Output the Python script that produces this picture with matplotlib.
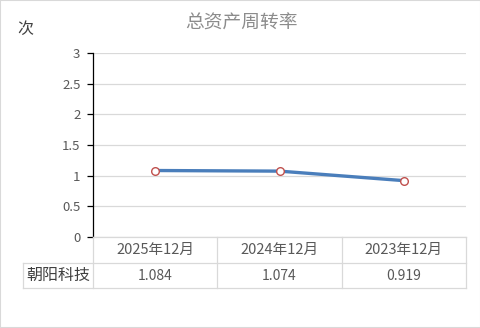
import matplotlib
matplotlib.use("Agg")
import matplotlib.pyplot as plt
from matplotlib.lines import Line2D
from matplotlib.patches import Rectangle

plt.rcParams['font.family'] = ['Noto Sans CJK SC', 'DejaVu Sans']

categories = ["2025年12月", "2024年12月", "2023年12月"]
series_name = "朝阳科技"
values = [1.084, 1.074, 0.919]
value_labels = ["1.084", "1.074", "0.919"]
yticks = [0, 0.5, 1, 1.5, 2, 2.5, 3]
ytick_labels = ["0", "0.5", "1", "1.5", "2", "2.5", "3"]
title = "总资产周转率"
unit = "次"

W, H = 481, 328
fig = plt.figure(figsize=(W / 100, H / 100), dpi=100)

def fx(px):
    return px / W

def fy(py):
    return 1 - py / H

x0, x1, ytop, ybot = 93, 466, 53, 237
ax = fig.add_axes([fx(x0), fy(ybot), fx(x1) - fx(x0), fy(ytop) - fy(ybot)])
xs = list(range(len(categories)))
ax.plot(xs, values, color='#4a7ebb', lw=2.4, solid_capstyle='round', zorder=3)
ax.plot(xs, values, ls='none', marker='o', ms=5.5, mfc='white', mec='#c0504d', mew=1.0, zorder=4)
ax.set_xlim(-0.5, len(categories) - 0.5)
ax.set_ylim(0, 3)
ax.set_yticks(yticks)
ax.set_yticklabels(ytick_labels, fontsize=9.5, color='#595959')
ax.set_xticks([])
ax.grid(axis='y', color='#d9d9d9', lw=0.9)
ax.set_axisbelow(True)
for s in ['top', 'right', 'bottom']:
    ax.spines[s].set_visible(False)
ax.spines['left'].set_color('black')
ax.spines['left'].set_linewidth(0.9)
ax.tick_params(axis='y', length=4, width=0.9, color='black', pad=5)

# table
gc = '#d9d9d9'
r0, r1, r2 = 237, 263, 288
lx = 23
colx = [x0 + (x1 - x0) * i / len(categories) for i in range(len(categories) + 1)]

def hline(xa, xb, y):
    fig.add_artist(Line2D([fx(xa), fx(xb)], [fy(y), fy(y)], color=gc, lw=0.9))

def vline(x, ya, yb):
    fig.add_artist(Line2D([fx(x), fx(x)], [fy(ya), fy(yb)], color=gc, lw=0.9))

hline(x0, x1, r0)
hline(lx, x1, r1)
hline(lx, x1, r2)
for c in colx:
    vline(c, r0, r2)
vline(lx, r1, r2)

for i, cat in enumerate(categories):
    cx = (colx[i] + colx[i + 1]) / 2
    fig.text(fx(cx), fy((r0 + r1) / 2), cat, ha='center', va='center', fontsize=10.5, color='#595959')
    fig.text(fx(cx), fy((r1 + r2) / 2), value_labels[i], ha='center', va='center', fontsize=10, color='#595959')
fig.text(fx((lx + x0) / 2), fy((r1 + r2) / 2), series_name, ha='center', va='center', fontsize=11.5, color='#404040')

fig.text(fx(241), fy(23), title, ha='center', va='center', fontsize=13.5, color='#8c8c8c')
fig.text(fx(25), fy(29), unit, ha='center', va='center', fontsize=11.5, color='#404040')

fig.add_artist(Rectangle((0, 0), 1, 1, transform=fig.transFigure, fill=False, ec='#d9d9d9', lw=1.5))

fig.savefig('out.png', dpi=100)
